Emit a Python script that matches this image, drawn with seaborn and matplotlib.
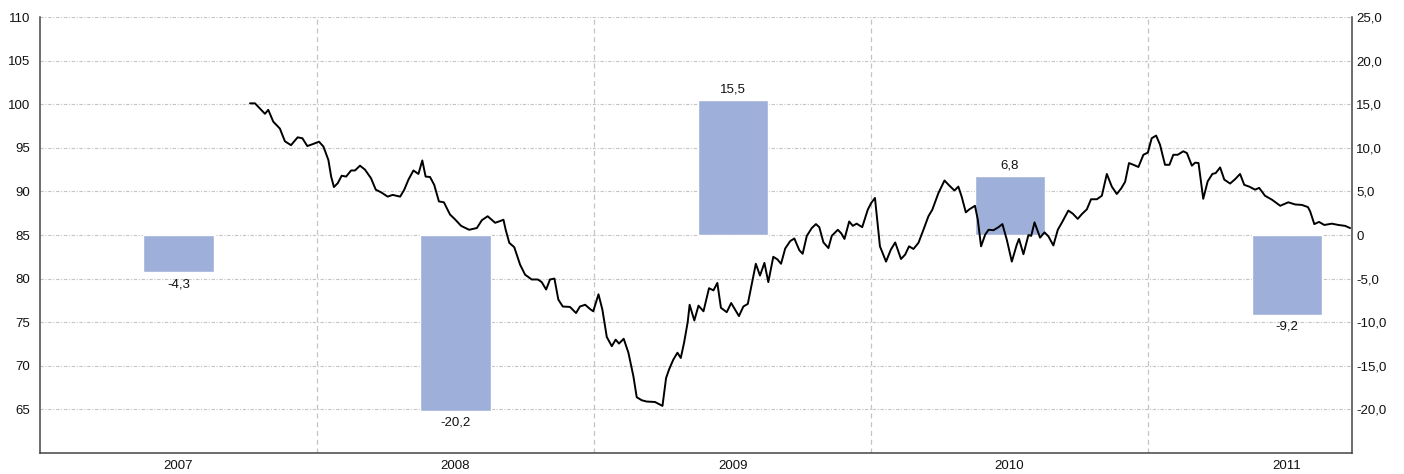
import matplotlib
matplotlib.use("Agg")
import matplotlib.pyplot as plt
import matplotlib.ticker as mticker
import pandas as pd
import seaborn as sns

# yearly change (right axis, %)
years = [2007, 2008, 2009, 2010, 2011]
changes = [-4.3, -20.2, 15.5, 6.8, -9.2]

# index level (left axis), x in decimal years
index_t = [2007.758, 2007.776, 2007.794, 2007.812, 2007.824, 2007.842, 2007.866, 2007.884,
           2007.906, 2007.930, 2007.947, 2007.965, 2007.987, 2008.007, 2008.023, 2008.041,
           2008.051, 2008.061, 2008.075, 2008.089, 2008.105, 2008.123, 2008.137, 2008.155,
           2008.173, 2008.195, 2008.212, 2008.231, 2008.255, 2008.273, 2008.300, 2008.315,
           2008.330, 2008.348, 2008.366, 2008.380, 2008.392, 2008.408, 2008.423, 2008.440,
           2008.458, 2008.480, 2008.498, 2008.520, 2008.549, 2008.577, 2008.595, 2008.616,
           2008.643, 2008.661, 2008.673, 2008.681, 2008.694, 2008.712, 2008.733, 2008.751,
           2008.775, 2008.797, 2008.811, 2008.827, 2008.841, 2008.857, 2008.871, 2008.887,
           2008.913, 2008.935, 2008.949, 2008.968, 2008.986, 2008.997, 2009.016, 2009.030,
           2009.046, 2009.064, 2009.078, 2009.090, 2009.107, 2009.124, 2009.142, 2009.154,
           2009.172, 2009.190, 2009.220, 2009.232, 2009.247, 2009.260, 2009.271, 2009.286,
           2009.301, 2009.313, 2009.325, 2009.338, 2009.345, 2009.362, 2009.377, 2009.395,
           2009.415, 2009.431, 2009.445, 2009.458, 2009.479, 2009.495, 2009.523, 2009.539,
           2009.555, 2009.569, 2009.584, 2009.599, 2009.615, 2009.629, 2009.647, 2009.662,
           2009.675, 2009.690, 2009.708, 2009.723, 2009.741, 2009.753, 2009.768, 2009.786,
           2009.801, 2009.813, 2009.828, 2009.846, 2009.858, 2009.880, 2009.892, 2009.904,
           2009.921, 2009.934, 2009.948, 2009.968, 2009.988, 2010.000, 2010.014, 2010.032,
           2010.054, 2010.071, 2010.087, 2010.108, 2010.123, 2010.137, 2010.153, 2010.171,
           2010.189, 2010.207, 2010.221, 2010.243, 2010.265, 2010.283, 2010.301, 2010.315,
           2010.327, 2010.342, 2010.355, 2010.375, 2010.385, 2010.397, 2010.412, 2010.424,
           2010.442, 2010.460, 2010.474, 2010.490, 2010.508, 2010.526, 2010.534, 2010.550,
           2010.568, 2010.578, 2010.590, 2010.602, 2010.610, 2010.626, 2010.640, 2010.658,
           2010.674, 2010.691, 2010.712, 2010.728, 2010.746, 2010.761, 2010.779, 2010.794,
           2010.815, 2010.833, 2010.851, 2010.869, 2010.887, 2010.903, 2010.917, 2010.931,
           2010.947, 2010.965, 2010.983, 2010.999, 2011.013, 2011.029, 2011.043, 2011.061,
           2011.077, 2011.091, 2011.107, 2011.127, 2011.140, 2011.158, 2011.170, 2011.182,
           2011.199, 2011.215, 2011.232, 2011.244, 2011.260, 2011.275, 2011.296, 2011.314,
           2011.332, 2011.347, 2011.365, 2011.386, 2011.401, 2011.422, 2011.447, 2011.477,
           2011.506, 2011.531, 2011.555, 2011.577, 2011.585, 2011.600, 2011.617, 2011.636,
           2011.663, 2011.687, 2011.711, 2011.729]
index_v = [100.1, 100.1, 99.5, 98.9, 99.35, 98.0, 97.2, 95.75,
           95.3, 96.2, 96.1, 95.2, 95.45, 95.7, 95.15, 93.6,
           91.7, 90.5, 90.95, 91.8, 91.7, 92.4, 92.4, 92.95,
           92.5, 91.5, 90.2, 89.9, 89.4, 89.6, 89.4, 90.2,
           91.35, 92.4, 92.0, 93.55, 91.7, 91.65, 90.75, 88.85,
           88.75, 87.35, 86.8, 86.05, 85.6, 85.8, 86.7, 87.15,
           86.4, 86.6, 86.75, 85.6, 84.1, 83.6, 81.6, 80.45,
           79.9, 79.9, 79.6, 78.75, 79.9, 80.0, 77.6, 76.8,
           76.75, 76.05, 76.8, 77.0, 76.5, 76.25, 78.2, 76.45,
           73.3, 72.25, 73.0, 72.55, 73.1, 71.5, 68.8, 66.4,
           66.05, 65.9, 65.85, 65.65, 65.4, 68.6, 69.6, 70.7,
           71.5, 70.9, 72.65, 75.0, 77.0, 75.2, 76.9, 76.25,
           78.9, 78.65, 79.5, 76.65, 76.15, 77.2, 75.7, 76.8,
           77.1, 79.3, 81.7, 80.35, 81.8, 79.6, 82.5, 82.2,
           81.7, 83.45, 84.3, 84.6, 83.25, 82.85, 84.9, 85.8,
           86.25, 85.9, 84.15, 83.5, 84.9, 85.6, 85.2, 84.55,
           86.55, 86.05, 86.3, 85.9, 87.9, 88.65, 89.25, 83.7,
           81.95, 83.3, 84.15, 82.25, 82.75, 83.7, 83.4, 84.1,
           85.6, 87.15, 87.9, 89.8, 91.25, 90.65, 90.1, 90.55,
           89.4, 87.6, 87.95, 88.35, 86.8, 83.7, 85.05, 85.6,
           85.55, 85.9, 86.25, 84.45, 81.95, 83.9, 84.55, 82.8,
           85.0, 84.9, 86.45, 85.4, 84.7, 85.3, 84.85, 83.8,
           85.6, 86.55, 87.8, 87.45, 86.85, 87.4, 87.95, 89.1,
           89.1, 89.5, 92.0, 90.55, 89.7, 90.35, 91.1, 93.25,
           93.05, 92.8, 94.2, 94.45, 96.1, 96.4, 95.35, 93.05,
           93.05, 94.2, 94.2, 94.6, 94.4, 92.95, 93.3, 93.25,
           89.15, 91.15, 92.0, 92.1, 92.75, 91.35, 90.9, 91.4,
           92.0, 90.75, 90.55, 90.2, 90.4, 89.5, 89.05, 88.35,
           88.75, 88.5, 88.45, 88.2, 87.7, 86.25, 86.5, 86.15,
           86.3, 86.15, 86.05, 85.8]

bar_df = pd.DataFrame({"pos": [y + 0.5 for y in years], "change": changes})
line_df = pd.DataFrame({"t": index_t, "v": index_v})

sns.set_theme(style="white")
plt.rcParams["font.family"] = ["Liberation Sans", "DejaVu Sans"]

fig = plt.figure(figsize=(14.04, 4.74), dpi=100)
ax = fig.add_axes([40 / 1404, 21 / 474, 1312 / 1404, 436 / 474])

# bars on the main axes (right scale), line on a twin drawn above
ax.bar(bar_df["pos"], bar_df["change"], width=0.253, color="#9eafd9", zorder=2)
ax.set_ylim(-25, 25)
ax.set_yticks(range(-20, 30, 5))
ax.yaxis.set_major_formatter(mticker.FuncFormatter(
    lambda v, p: "0" if v == 0 else f"{v:.1f}".replace(".", ",")))

for x, v in zip(bar_df["pos"], bar_df["change"]):
    lab = f"{v:.1f}".replace(".", ",")
    if v >= 0:
        ax.annotate(lab, (x, v), xytext=(0, 3), textcoords="offset points",
                    ha="center", va="bottom", fontsize=9.5, color="#111111")
    else:
        ax.annotate(lab, (x, v), xytext=(0, -4), textcoords="offset points",
                    ha="center", va="top", fontsize=9.5, color="#111111")

ax.set_xlim(2007, 2011.736)
ax.set_xticks([y + 0.5 for y in years])
ax.set_xticklabels([str(y) for y in years])
ax.set_xticks(years[1:], minor=True)

ax.grid(axis="y", which="major", color="#c4c4c4", lw=0.8, ls=(0, (3, 1.5, 1, 1.5)))
ax.grid(axis="x", which="minor", color="#c4c4c4", lw=0.9, ls=(0, (4, 3)))
ax.grid(axis="x", which="major", visible=False)
ax.set_axisbelow(True)

axl = ax.twinx()
sns.lineplot(data=line_df, x="t", y="v", ax=axl, color="black", lw=1.4,
             sort=False, estimator=None)
axl.set_ylim(60, 110)
axl.set_yticks(range(65, 115, 5))
axl.set_xlim(2007, 2011.736)
axl.set_xlabel("")
axl.set_ylabel("")
ax.set_ylabel("")

# swap sides: index scale on the left, change scale on the right
axl.yaxis.tick_left()
ax.yaxis.tick_right()

for a in (ax, axl):
    a.tick_params(axis="both", which="both", length=0, labelsize=9.5, colors="#111111")
ax.tick_params(axis="y", pad=3)
ax.tick_params(axis="x", pad=5)
axl.tick_params(axis="y", pad=7)

for s in axl.spines.values():
    s.set_visible(False)
ax.spines["top"].set_visible(False)
for side in ("left", "right", "bottom"):
    ax.spines[side].set_color("#444444")
    ax.spines[side].set_linewidth(1.1)

fig.savefig("out.png", dpi=100)
